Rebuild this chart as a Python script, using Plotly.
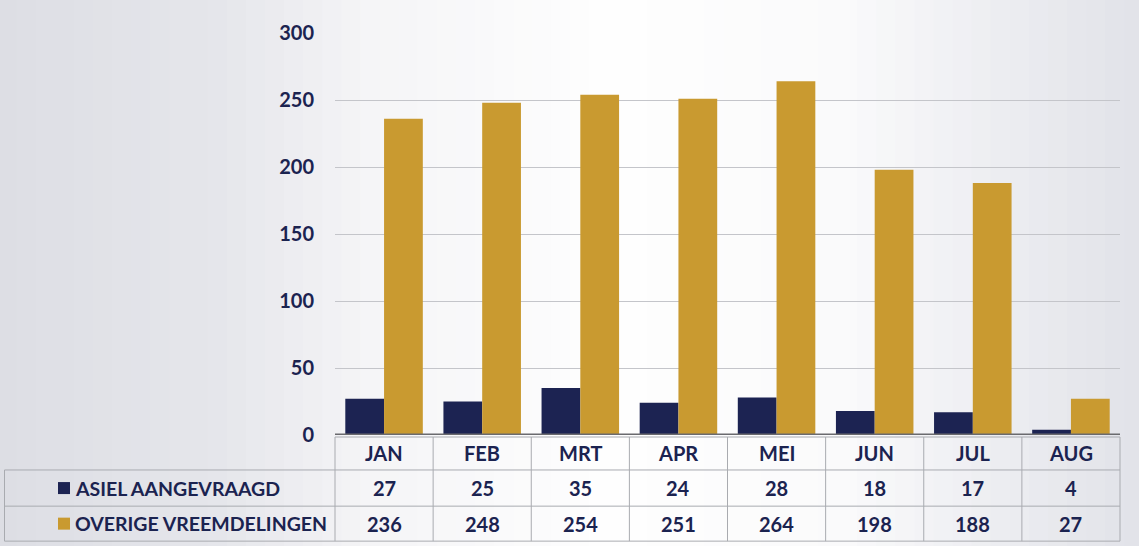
import plotly.graph_objects as go

# Monthly counts
months = ["JAN", "FEB", "MRT", "APR", "MEI", "JUN", "JUL", "AUG"]
asiel = [27, 25, 35, 24, 28, 18, 17, 4]
overige = [236, 248, 254, 251, 264, 198, 188, 27]
series_names = ["ASIEL AANGEVRAAGD", "OVERIGE VREEMDELINGEN"]
y_ticks = [0, 50, 100, 150, 200, 250, 300]

NAVY = "#1c2352"
GOLD = "#c99a30"
TEXT = "#1b2350"
FONT = "Lato"

fig = go.Figure()
fig.add_trace(go.Bar(x=months, y=asiel, name=series_names[0], marker_color=NAVY,
                     marker_line_width=0))
fig.add_trace(go.Bar(x=months, y=overige, name=series_names[1], marker_color=GOLD,
                     marker_line_width=0))

shapes = []

# soft grey-white backdrop, built from narrow vertical strips
def lerp(c1, c2, t):
    return tuple(round(a + (b - a) * t) for a, b in zip(c1, c2))

stops = [(-0.43, (221, 222, 228)), (-0.15, (229, 230, 235)), (0.05, (245, 245, 247)),
         (0.35, (254, 254, 254)), (0.65, (250, 250, 251)), (0.85, (236, 237, 241)),
         (1.03, (225, 226, 232))]
n = 60
x0, x1 = -0.43, 1.03
for i in range(n):
    a = x0 + (x1 - x0) * i / n
    b = x0 + (x1 - x0) * (i + 1) / n
    m = (a + b) / 2
    for (p, c), (q, d) in zip(stops[:-1], stops[1:]):
        if p <= m <= q:
            col = lerp(c, d, (m - p) / (q - p))
            break
    shapes.append(dict(type="rect", xref="paper", yref="paper", x0=a, x1=b + 0.002,
                       y0=-0.3, y1=1.1, layer="below", line_width=0,
                       fillcolor="rgb(%d,%d,%d)" % col))

# data table under the plot
row_y = [-0.005, -0.087, -0.177, -0.264]
grid = "#a9abb0"
left_edge = -0.421
# horizontal rules
shapes.append(dict(type="line", xref="paper", yref="paper", x0=0, x1=1,
                   y0=row_y[0], y1=row_y[0], line=dict(color=grid, width=1)))
for y in row_y[1:]:
    shapes.append(dict(type="line", xref="paper", yref="paper", x0=left_edge, x1=1,
                       y0=y, y1=y, line=dict(color=grid, width=1)))
# vertical rules
for k in range(len(months) + 1):
    xp = k / len(months)
    shapes.append(dict(type="line", xref="paper", yref="paper", x0=xp, x1=xp,
                       y0=row_y[0], y1=row_y[3], line=dict(color=grid, width=1)))
shapes.append(dict(type="line", xref="paper", yref="paper", x0=left_edge, x1=left_edge,
                   y0=row_y[1], y1=row_y[3], line=dict(color=grid, width=1)))
# baseline
shapes.append(dict(type="line", xref="paper", yref="y", x0=0, x1=1, y0=0, y1=0,
                   line=dict(color="#6a6a6e", width=3)))

annotations = []
font = dict(family=FONT, size=20, color=TEXT)
mids = [(row_y[i] + row_y[i + 1]) / 2 for i in range(3)]
for i, m in enumerate(months):
    for ym, txt in [(mids[0], m), (mids[1], str(asiel[i])), (mids[2], str(overige[i]))]:
        annotations.append(dict(x=m, xref="x", y=ym, yref="paper", text="<b>%s</b>" % txt,
                                xanchor="center", yanchor="middle",
                                showarrow=False, font=font))

# series keys in the table's label column
key_w, key_h = 12 / 785, 12 / 402
for name, col, ym in [(series_names[0], NAVY, mids[1]), (series_names[1], GOLD, mids[2])]:
    shapes.append(dict(type="rect", xref="paper", yref="paper",
                       x0=-0.3529, x1=-0.3529 + key_w, y0=ym - key_h / 2, y1=ym + key_h / 2,
                       line_width=0, fillcolor=col))
    annotations.append(dict(x=-0.3338, xref="paper", y=ym, yref="paper", xanchor="left",
                            yanchor="middle", text="<b>%s</b>" % name,
                            showarrow=False, font=dict(family=FONT, size=19.5, color=TEXT)))

fig.update_layout(
    width=1139, height=546,
    margin=dict(l=335, r=19, t=33, b=111),
    barmode="group", bargap=0.21, bargroupgap=0,
    paper_bgcolor="white", plot_bgcolor="rgba(0,0,0,0)",
    showlegend=False,
    shapes=shapes, annotations=annotations,
    font=dict(family=FONT, color=TEXT),
    xaxis=dict(showticklabels=False, showgrid=False, zeroline=False, showline=False,
               ticks=""),
    yaxis=dict(range=[0, 300], tickvals=y_ticks, ticktext=["<b>%d</b>" % v for v in y_ticks],
               showgrid=True, gridcolor="#c4c5ca",
               gridwidth=1, zeroline=False, showline=False, ticks="",
               ticklabelstandoff=20,
               tickfont=dict(family=FONT, size=20, color=TEXT)),
)

fig.write_html("out.html")
